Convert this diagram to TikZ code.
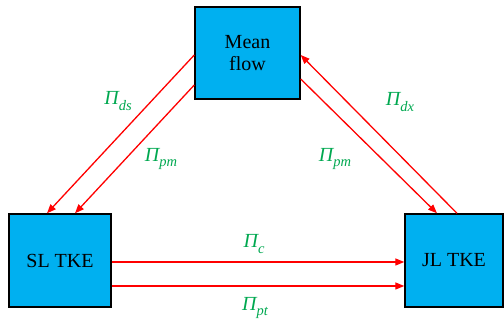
\documentclass[tikz,border=0pt]{standalone}
\usepackage{fontspec}
\setmainfont{Liberation Serif}
\usetikzlibrary{arrows.meta,positioning}
\definecolor{boxblue}{RGB}{0,176,240}
\definecolor{flowred}{RGB}{255,0,0}
\definecolor{termgreen}{RGB}{0,168,80}
\newcommand{\fluxsub}[1]{\raisebox{-5.5pt}{\fontsize{14.5}{14.5}\selectfont #1}}
\begin{document}
\begin{tikzpicture}[x=1pt, y=1pt, font=\fontsize{20}{22}\selectfont,
      blk/.style={rectangle, draw=black, line width=1.4pt, fill=boxblue,
                  align=center, inner sep=0pt},
      flux/.style={-{Triangle[length=9pt,width=7pt]}, line width=1.3pt, flowred},
      term/.style={text=termgreen, font=\fontsize{20}{22}\selectfont\itshape}]
    \useasboundingbox (0,0) rectangle (504,323);
    \node[blk, minimum width=105pt, minimum height=92pt] (mf) at (247.5,270) {Mean\\flow};
    \node[blk, minimum width=102pt, minimum height=93pt] (sl) at (60,62.5) {SL TKE};
    \node[blk, minimum width=98pt, minimum height=93pt]  (jl) at (454,62.5) {JL TKE};
    % mean flow <-> shear layer
    \draw[flux] ([yshift=-2pt]mf.west) -- ([xshift=-13pt]sl.north);
    \draw[flux] ([yshift=-32pt]mf.west) -- ([xshift=15pt]sl.north);
    % mean flow <-> jet layer
    \draw[flux] ([xshift=3pt]jl.north) -- ([yshift=-2pt]mf.east);
    \draw[flux] ([yshift=-26pt]mf.east) -- ([xshift=-17pt]jl.north);
    % shear layer -> jet layer
    \draw[flux] ([yshift=-1.5pt]sl.east) -- ([yshift=-1.5pt]jl.west);
    \draw[flux] ([yshift=-25.5pt]sl.east) -- ([yshift=-25.5pt]jl.west);
    \node[term] (tds) at (118,222) {Π\fluxsub{ds}};
    \node[term] (tpl) at (161,164) {Π\fluxsub{pm}};
    \node[term] (tdx) at (400,221) {Π\fluxsub{dx}};
    \node[term] (tpr) at (335,164) {Π\fluxsub{pm}};
    \node[term] (tc)  at (254,79)  {Π\fluxsub{c}};
    \node[term] (tpt) at (255,15)  {Π\fluxsub{pt}};
  \end{tikzpicture}
\end{document}
